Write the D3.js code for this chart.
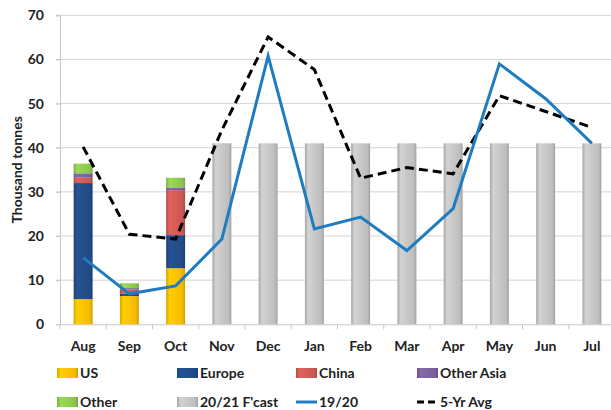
<!DOCTYPE html>
<html><head><meta charset="utf-8">
<script src="https://cdn.jsdelivr.net/npm/d3@7"></script>
<style>body{margin:0;background:#fff}svg{display:block}text{font-family:Lato,"Open Sans",sans-serif;font-weight:bold;fill:#222}</style>
</head><body><svg id="c" width="611" height="410"></svg>
<script>
const months = ["Aug","Sep","Oct","Nov","Dec","Jan","Feb","Mar","Apr","May","Jun","Jul"];
const usVals        = [5.7, 6.4, 12.7, 0,0,0,0,0,0,0,0,0];
const europeVals    = [26.3, 0.6, 7.5, 0,0,0,0,0,0,0,0,0];
const chinaVals     = [1.2, 0.9, 10.2, 0,0,0,0,0,0,0,0,0];
const otherAsiaVals = [1.0, 0.3, 0.6, 0,0,0,0,0,0,0,0,0];
const otherVals     = [2.2, 1.1, 2.2, 0,0,0,0,0,0,0,0,0];
const forecastVals  = [null,null,null,41,41,41,41,41,41,41,41,41];
const line1920      = [15.1, 6.9, 8.7, 19.3, 60.8, 21.6, 24.3, 16.7, 26.2, 59.0, 51.1, 41.0];
const avg5yr        = [40.2, 20.4, 19.3, 44.0, 65.1, 57.7, 33.1, 35.5, 34.1, 51.8, 48.2, 44.6];
const yTicks = [0,10,20,30,40,50,60,70];
const stackKeys = ["US","Europe","China","Other Asia","Other"];
const stackSeries = [usVals, europeVals, chinaVals, otherAsiaVals, otherVals];
const colors = {"US":"#ffc400","Europe":"#234f8c","China":"#d65c57","Other Asia":"#8064a2","Other":"#92d050","20/21 F'cast":"#c8c8c8","19/20":"#1f7cc1","5-Yr Avg":"#000"};

const svg = d3.select("#c");
const L=60, R=615, T=15.3, B=324.3;
const x = d3.scaleBand().domain(months).range([L,R]).paddingInner(0.59).paddingOuter(0.295);
const xb = d3.scaleBand().domain(months).range([L,R]);
const y = d3.scaleLinear().domain([0,70]).range([B,T]);
const defs = svg.append("defs");
function grad(id, base){
  const c = d3.color(base);
  const g = defs.append("linearGradient").attr("id",id).attr("x1","0").attr("x2","1").attr("y1","0").attr("y2","0");
  g.append("stop").attr("offset","0%").attr("stop-color",c.darker(0.5));
  g.append("stop").attr("offset","18%").attr("stop-color",c.brighter(0.15));
  g.append("stop").attr("offset","50%").attr("stop-color",c);
  g.append("stop").attr("offset","85%").attr("stop-color",c.darker(0.15));
  g.append("stop").attr("offset","100%").attr("stop-color",c.darker(0.6));
}
Object.keys(colors).forEach((k,i)=>grad("g"+i, colors[k]));
const gid = k => "url(#g"+Object.keys(colors).indexOf(k)+")";

// grid
svg.append("g").selectAll("line").data(yTicks.slice(1)).join("line")
  .attr("x1",L-4).attr("x2",611).attr("y1",d=>y(d)).attr("y2",d=>y(d)).attr("stroke","#d4d4d4").attr("stroke-width",1);
// y axis
const ya = svg.append("g").attr("transform",`translate(${L},0)`).call(d3.axisLeft(y).tickValues(yTicks).tickSize(4).tickPadding(12));
ya.select(".domain").attr("stroke","#c8c8c8");
ya.selectAll(".tick line").attr("stroke","#c8c8c8");
ya.selectAll("text").style("font-size","14px").attr("fill","#222");
// x axis
const xa = svg.append("g").attr("transform",`translate(0,${B})`).call(d3.axisBottom(xb).tickSize(0).tickPadding(17));
xa.select(".domain").attr("stroke","#c8c8c8");
xa.selectAll("text").style("font-size","14px").attr("fill","#222");
svg.append("g").selectAll("line").data(months).join("line")
  .attr("x1",d=>xb(d)).attr("x2",d=>xb(d)).attr("y1",B).attr("y2",B+5).attr("stroke","#c8c8c8");

// y label
svg.append("text").attr("transform",`translate(22,${(T+B)/2}) rotate(-90)`).attr("text-anchor","middle").style("font-size","14px").text("Thousand tonnes");

// stacked bars
const stackData = months.map((m,i)=>{const o={m}; stackKeys.forEach((k,j)=>o[k]=stackSeries[j][i]); return o;});
const stacked = d3.stack().keys(stackKeys)(stackData);
svg.append("g").selectAll("g").data(stacked).join("g").attr("fill",d=>gid(d.key))
  .selectAll("rect").data(d=>d.filter(v=>v[1]-v[0]>0)).join("rect")
  .attr("x",d=>x(d.data.m)).attr("width",x.bandwidth())
  .attr("y",d=>y(d[1])).attr("height",d=>y(d[0])-y(d[1]));
// forecast bars
svg.append("g").selectAll("rect").data(months.map((m,i)=>({m,v:forecastVals[i]})).filter(d=>d.v!=null)).join("rect")
  .attr("x",d=>x(d.m)).attr("width",x.bandwidth()).attr("y",d=>y(d.v)).attr("height",d=>y(0)-y(d.v))
  .attr("fill",gid("20/21 F'cast"));

// lines
const ln = d3.line().x((d,i)=>xb(months[i])+xb.bandwidth()/2).y(d=>y(d));
svg.append("path").datum(avg5yr).attr("d",ln).attr("fill","none").attr("stroke","#000").attr("stroke-width",3).attr("stroke-dasharray","9,5");
svg.append("path").datum(line1920).attr("d",ln).attr("fill","none").attr("stroke",colors["19/20"]).attr("stroke-width",3);

// legend
const legend = [
  {k:"US",t:"rect",x:57,y:373},{k:"Europe",t:"rect",x:177,y:373},{k:"China",t:"rect",x:296,y:373},{k:"Other Asia",t:"rect",x:417,y:373},
  {k:"Other",t:"rect",x:57,y:402},{k:"20/21 F'cast",t:"rect",x:177,y:402},{k:"19/20",t:"line",x:296,y:402},{k:"5-Yr Avg",t:"dash",x:417,y:402}
];
const lg = svg.append("g").selectAll("g").data(legend).join("g").attr("transform",d=>`translate(${d.x},${d.y})`);
lg.filter(d=>d.t==="rect").append("rect").attr("x",0).attr("y",-5).attr("width",21).attr("height",10).attr("fill",d=>gid(d.k));
lg.filter(d=>d.t==="line").append("line").attr("x1",0).attr("x2",21).attr("stroke",colors["19/20"]).attr("stroke-width",3);
lg.filter(d=>d.t==="dash").append("line").attr("x1",0).attr("x2",21).attr("stroke","#000").attr("stroke-width",3).attr("stroke-dasharray","7,4");
lg.append("text").attr("x",23).attr("dy","0.36em").style("font-size","14px").text(d=>d.k);
</script></body></html>
